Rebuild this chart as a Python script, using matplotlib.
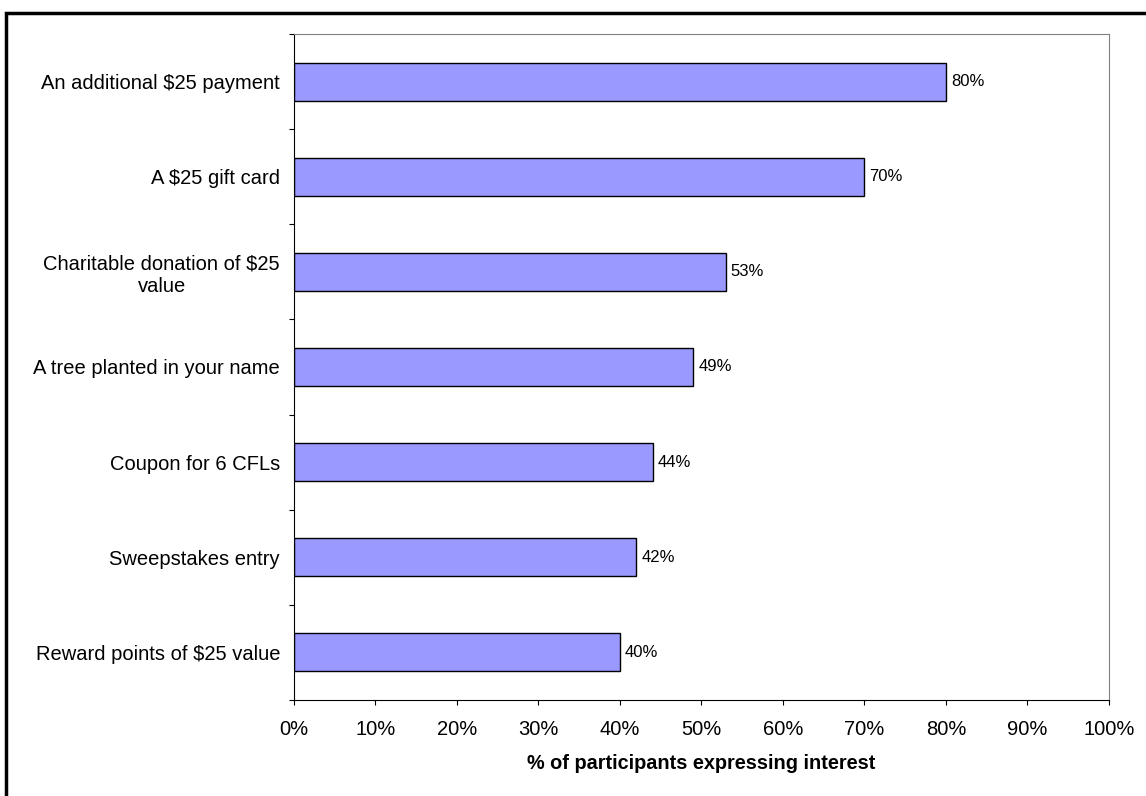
import matplotlib.pyplot as plt
from matplotlib.patches import Rectangle
from matplotlib.ticker import FuncFormatter, MultipleLocator

plt.rcParams['font.family'] = ['Liberation Sans', 'DejaVu Sans']

incentives = [
    "Reward points of $25 value",
    "Sweepstakes entry",
    "Coupon for 6 CFLs",
    "A tree planted in your name",
    "Charitable donation of $25\nvalue",
    "A $25 gift card",
    "An additional $25 payment",
]
interest = [40, 42, 44, 49, 53, 70, 80]

fig = plt.figure(figsize=(11.46, 7.96), dpi=100)
ax = fig.add_axes([0.2565, 0.1206, 0.7112, 0.8367])

ypos = list(range(len(incentives)))
bars = ax.barh(ypos, interest, height=0.4, color='#9999FF',
               edgecolor='black', linewidth=1)

for b, v in zip(bars, interest):
    ax.text(b.get_width() + 0.6, b.get_y() + b.get_height() / 2, f"{v}%",
            va='center', ha='left', fontsize=12)

ax.set_xlim(0, 100)
ax.set_ylim(-0.5, len(incentives) - 0.5)
ax.xaxis.set_major_locator(MultipleLocator(10))
ax.xaxis.set_major_formatter(FuncFormatter(lambda x, _: f"{x:.0f}%"))

# category labels sit between the tick marks
ax.set_yticks([i - 0.5 for i in range(len(incentives) + 1)])
ax.set_yticklabels([])
ax.set_yticks(ypos, minor=True)
ax.set_yticklabels(incentives, minor=True, fontsize=14.5, ha='right',
                   multialignment='center')
ax.tick_params(axis='y', which='minor', length=0, pad=10)
ax.tick_params(axis='y', which='major', length=3.6, direction='out')
ax.tick_params(axis='x', length=3.6, direction='out', labelsize=14.5, pad=10.5)

ax.set_xlabel("% of participants expressing interest", fontsize=14.3,
              fontweight='bold', labelpad=11)

for side in ('top', 'right'):
    ax.spines[side].set_color('#808080')
for side in ('left', 'bottom'):
    ax.spines[side].set_color('black')

# outer chart frame
fig.patches.append(Rectangle((6 / 1146, -0.1), 1.2, 1 - 13 / 796 + 0.1,
                             transform=fig.transFigure, fill=False,
                             edgecolor='black', linewidth=2.5))

fig.savefig('out.png', dpi=100)
